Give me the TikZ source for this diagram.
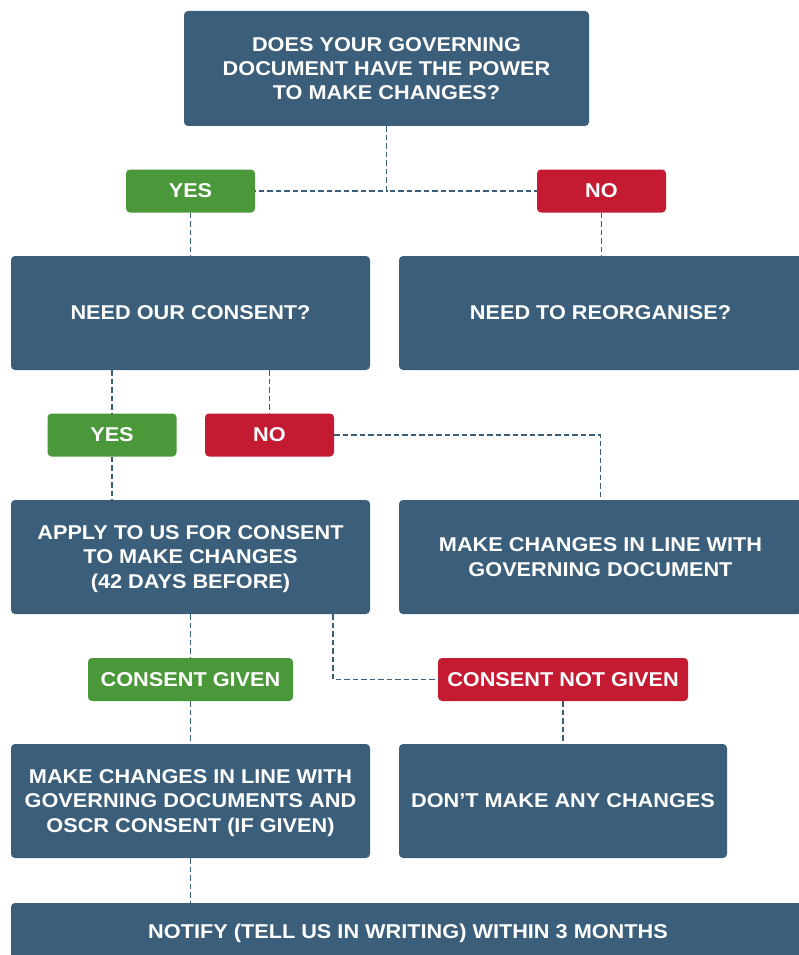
\documentclass[tikz,border=0pt]{standalone}
\usepackage{fontspec}
\setmainfont{Liberation Sans}[FakeStretch=1.085]
\usetikzlibrary{calc}
\definecolor{boxblue}{RGB}{59,94,122}
\definecolor{yesgreen}{RGB}{74,152,57}
\definecolor{nored}{RGB}{196,26,50}
\tikzset{
  box/.style={fill=boxblue, rounded corners=4pt, text=white, align=center, inner sep=0pt,
    text depth=-3pt, font=\fontsize{20}{24.2}\selectfont\bfseries},
  tag/.style={rounded corners=4pt, text=white, align=center, inner sep=0pt,
    minimum height=43pt, font=\fontsize{20}{24.2}\selectfont\bfseries},
  yestag/.style={tag, fill=yesgreen},
  notag/.style={tag, fill=nored},
  link/.style={draw=boxblue, line width=1.8pt, dash pattern=on 5.5pt off 3pt}
}
\begin{document}
\begin{tikzpicture}[x=1pt,y=-1pt]
\useasboundingbox (0,0) rectangle (798,955);
\node[box, minimum width=405pt, minimum height=115pt] (top) at (386.5,68.5)
  {DOES YOUR GOVERNING\\DOCUMENT HAVE THE POWER\\TO MAKE CHANGES?};
\node[yestag, minimum width=129pt] (yes1) at (190.5,191) {YES};
\node[notag, minimum width=129pt] (no1) at (601.5,191) {NO};
\node[box, minimum width=359pt, minimum height=114pt] (need) at (190.5,313) {NEED OUR CONSENT?};
\node[box, minimum width=403pt, minimum height=114pt] (reorg) at (600.5,313) {NEED TO REORGANISE?};
\node[yestag, minimum width=129pt] (yes2) at (112,435) {YES};
\node[notag, minimum width=129pt] (no2) at (269.5,435) {NO};
\node[box, minimum width=359pt, minimum height=114pt] (apply) at (190.5,557)
  {APPLY TO US FOR CONSENT\\TO MAKE CHANGES\\(42 DAYS BEFORE)};
\node[box, minimum width=403pt, minimum height=114pt] (makechg) at (600.5,557)
  {MAKE CHANGES IN LINE WITH\\GOVERNING DOCUMENT};
\node[yestag, minimum width=205pt] (cgiven) at (190.5,679.5) {CONSENT GIVEN};
\node[notag, minimum width=250pt] (cng) at (563,679.5) {CONSENT NOT GIVEN};
\node[box, minimum width=359pt, minimum height=114pt] (oscr) at (190.5,801)
  {MAKE CHANGES IN LINE WITH\\GOVERNING DOCUMENTS AND\\OSCR CONSENT (IF GIVEN)};
\node[box, minimum width=328pt, minimum height=114pt] (dont) at (563,801) {DON’T MAKE ANY CHANGES};
\node[box, minimum width=794pt, minimum height=56pt] (notify) at (408,931)
  {NOTIFY (TELL US IN WRITING) WITHIN 3 MONTHS};
% connectors
\draw[link] (top.south) |- (yes1.east);
\draw[link] (top.south) |- (no1.west);
\draw[link] (yes1.south) -- (yes1.south |- need.north);
\draw[link] (no1.south) -- (no1.south |- reorg.north);
\draw[link] (yes2.north |- need.south) -- (yes2.north);
\draw[link] (no2.north |- need.south) -- (no2.north);
\draw[link] (yes2.south) -- (yes2.south |- apply.north);
\draw[link] (no2.east) -| (makechg.north);
\draw[link] (cgiven.north |- apply.south) -- (cgiven.north);
\draw[link] ($(apply.south)+(142.5,0)$) |- (cng.west);
\draw[link] (cgiven.south) -- (cgiven.south |- oscr.north);
\draw[link] (cng.south) -- (cng.south |- dont.north);
\draw[link] (oscr.south) -- (oscr.south |- notify.north);
\draw[link] ($(makechg.south)+(163.5,0)$) -- ($(makechg.south)+(163.5,0)$ |- notify.north);
\end{tikzpicture}
\end{document}
